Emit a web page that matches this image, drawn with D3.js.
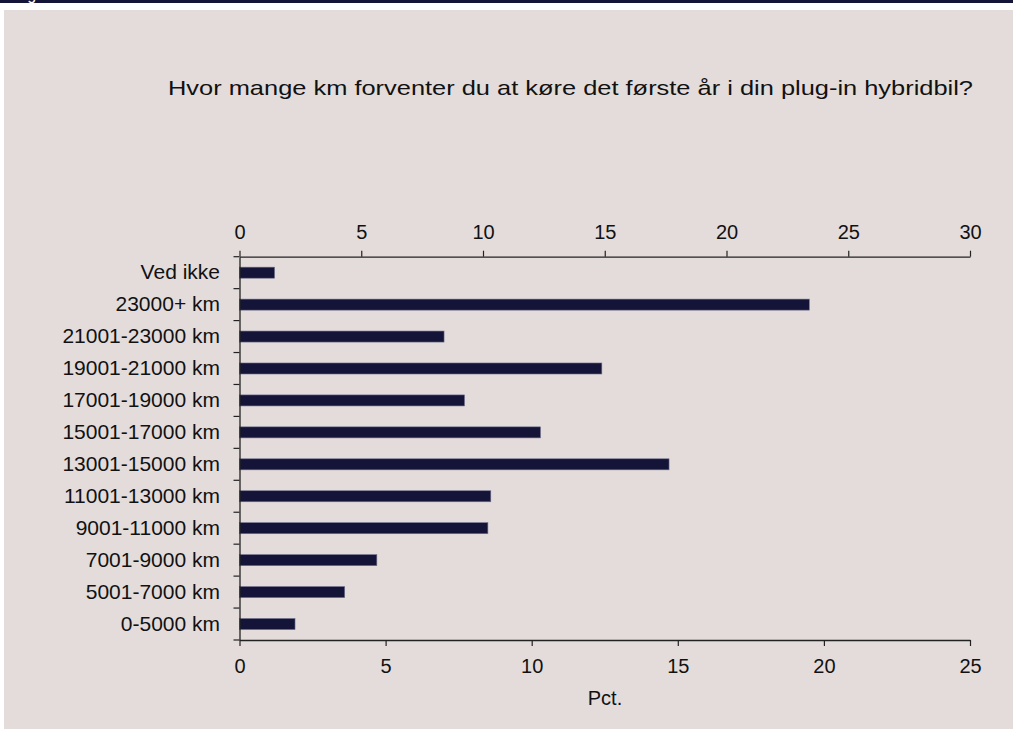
<!DOCTYPE html>
<html>
<head>
<meta charset="utf-8">
<script src="https://cdn.jsdelivr.net/npm/d3@7"></script>
<style>
  html, body { margin: 0; padding: 0; background: #ffffff; }
  svg { display: block; font-family: "Liberation Sans", Arial, sans-serif; }
</style>
</head>
<body>
<svg id="chart" width="1013" height="729"></svg>
<script>
// ---- data ----
const categories = [
  "Ved ikke", "23000+ km", "21001-23000 km", "19001-21000 km", "17001-19000 km",
  "15001-17000 km", "13001-15000 km", "11001-13000 km", "9001-11000 km",
  "7001-9000 km", "5001-7000 km", "0-5000 km"
];
const values = [1.2, 19.5, 7.0, 12.4, 7.7, 10.3, 14.7, 8.6, 8.5, 4.7, 3.6, 1.9];
const bottomTicks = [0, 5, 10, 15, 20, 25];
const topTicks = [0, 5, 10, 15, 20, 25, 30];
const title = "Hvor mange km forventer du at køre det første år i din plug-in hybridbil?";
const xLabel = "Pct.";

(function () {
const svg = d3.select("#chart");

// header strip + panel
svg.append("rect").attr("x", 0).attr("y", 0).attr("width", 1013).attr("height", 3).attr("fill", "#141439");
svg.append("defs").append("clipPath").attr("id", "hdr")
  .append("rect").attr("x", 0).attr("y", 0).attr("width", 1013).attr("height", 3);
svg.append("text").attr("x", 14).attr("y", -0.5).attr("clip-path", "url(#hdr)")
  .attr("fill", "#ffffff").attr("font-size", 16).text("Figur");
svg.append("rect").attr("x", 4).attr("y", 10).attr("width", 1009).attr("height", 719).attr("fill", "#e3dcdb");

const pLeft = 239.5, pRight = 970, pTop = 256.7, pBottom = 640;

const xBottom = d3.scaleLinear().domain([0, 25]).range([pLeft, pRight]);
const xTop = d3.scaleLinear().domain([0, 30]).range([pLeft, pRight]);
const y = d3.scaleBand().domain(categories).range([pTop, pBottom])
  .paddingInner(0.655).paddingOuter(0.3275);

// title
svg.append("text").attr("x", 168).attr("y", 95)
  .attr("font-size", 21).attr("fill", "#111")
  .attr("textLength", 805).attr("lengthAdjust", "spacingAndGlyphs")
  .text(title);

// bars
svg.append("g").selectAll("rect").data(categories).join("rect")
  .attr("x", xBottom(0))
  .attr("y", d => y(d))
  .attr("width", (d, i) => xBottom(values[i]) - xBottom(0))
  .attr("height", y.bandwidth())
  .attr("fill", "#141439")
  .attr("stroke", "#6e6e8c")
  .attr("stroke-width", 0.6);

function styleAxis(g, fs) {
  g.select(".domain").attr("stroke", "#222").attr("stroke-width", 1.3);
  g.selectAll(".tick line").attr("stroke", "#222").attr("stroke-width", 1.2);
  g.selectAll(".tick text").attr("fill", "#111").attr("font-size", fs || 20)
    .attr("font-family", "'Liberation Sans', Arial, sans-serif");
}

// top axis
svg.append("g").attr("transform", `translate(0,${pTop})`)
  .call(d3.axisTop(xTop).tickValues(topTicks).tickSize(6).tickSizeOuter(0).tickPadding(11.5))
  .call(styleAxis, 20);

// bottom axis
svg.append("g").attr("transform", `translate(0,${pBottom})`)
  .call(d3.axisBottom(xBottom).tickValues(bottomTicks).tickSize(6).tickSizeOuter(0).tickPadding(13))
  .call(styleAxis, 20);

// left axis (labels)
svg.append("g").attr("transform", `translate(${pLeft},0)`)
  .call(d3.axisLeft(y).tickSize(0).tickPadding(19.5))
  .call(styleAxis, 21);

// category boundary ticks
const boundaries = d3.range(categories.length + 1).map(i => y.range()[0] + i * y.step());
svg.append("g").selectAll("line").data(boundaries).join("line")
  .attr("x1", pLeft - 6).attr("x2", pLeft)
  .attr("y1", d => d).attr("y2", d => d)
  .attr("stroke", "#222").attr("stroke-width", 1.2);

// x label
svg.append("text").attr("x", 605).attr("y", 705).attr("text-anchor", "middle")
  .attr("font-size", 20).attr("fill", "#111").text(xLabel);
})();
</script>
</body>
</html>
